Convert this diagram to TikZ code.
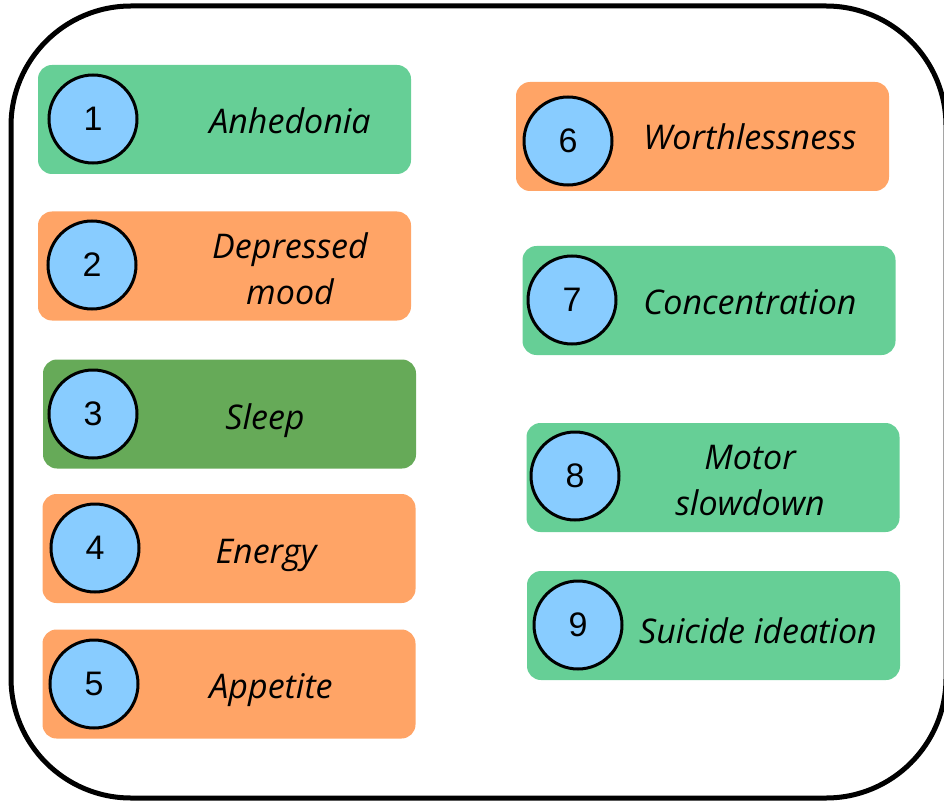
\documentclass[tikz,border=0pt]{standalone}
\usepackage{fontspec}
\setmainfont{Open Sans}
\newfontfamily\numfont{Liberation Sans}

\definecolor{boxgreen}{RGB}{102,207,150}
\definecolor{boxorange}{RGB}{255,164,102}
\definecolor{boxdark}{RGB}{102,170,88}
\definecolor{numblue}{RGB}{136,204,255}

\begin{document}
\begin{tikzpicture}[x=1pt, y=-1pt,
    symptom/.style={rectangle, rounded corners=14pt, minimum width=373pt, minimum height=109pt, inner sep=0pt},
    numcircle/.style={circle, draw=black, line width=3pt, fill=numblue, minimum size=88pt, inner sep=0pt,
      font=\numfont\fontsize{34pt}{34pt}\selectfont},
    label/.style={anchor=base, align=center, font=\itshape\fontsize{34pt}{46pt}\selectfont}]
    \useasboundingbox (0,0) rectangle (944,802);

    % outer frame
    \draw[line width=5pt, rounded corners=120pt] (11,6) rectangle (946,798);

    % left column
    \node[symptom, fill=boxgreen] (box1) at (224.5,119.5) {};
    \node[numcircle] (num1) at (93,119) {1};
    \node[label] (lbl1) at (290,134) {Anhedonia};

    \node[symptom, fill=boxorange] (box2) at (224.5,266) {};
    \node[numcircle] (num2) at (92,265) {2};
    \node[label, anchor=center] (lbl2) at (290,269) {Depressed\\mood};

    \node[symptom, fill=boxdark] (box3) at (229.5,414) {};
    \node[numcircle] (num3) at (93,414) {3};
    \node[label] (lbl3) at (265,429) {Sleep};

    \node[symptom, fill=boxorange] (box4) at (229,548.5) {};
    \node[numcircle] (num4) at (95,548) {4};
    \node[label] (lbl4) at (266,563) {Energy};

    \node[symptom, fill=boxorange] (box5) at (229,684) {};
    \node[numcircle] (num5) at (94,684) {5};
    \node[label] (lbl5) at (271,698) {Appetite};

    % right column
    \node[symptom, fill=boxorange] (box6) at (702.5,136.5) {};
    \node[numcircle] (num6) at (568,141) {6};
    \node[label] (lbl6) at (750,150) {Worthlessness};

    \node[symptom, fill=boxgreen] (box7) at (709,300.5) {};
    \node[numcircle] (num7) at (572,300) {7};
    \node[label] (lbl7) at (750,314) {Concentration};

    \node[symptom, fill=boxgreen] (box8) at (713,477.5) {};
    \node[numcircle] (num8) at (575,476) {8};
    \node[label, anchor=center] (lbl8) at (750,481) {Motor\\slowdown};

    \node[symptom, fill=boxgreen] (box9) at (713.5,625.5) {};
    \node[numcircle] (num9) at (578,625) {9};
    \node[label] (lbl9) at (758,643) {Suicide ideation};
  \end{tikzpicture}
\end{document}
